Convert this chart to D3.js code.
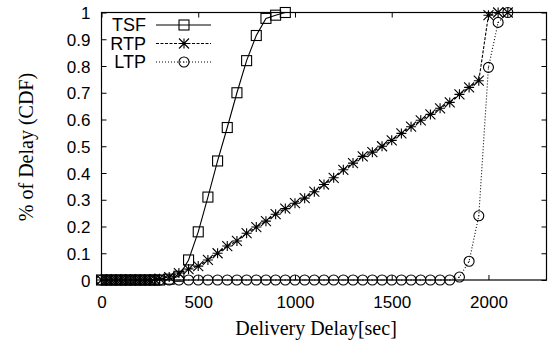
<!DOCTYPE html>
<html><head><meta charset="utf-8">
<script src="https://cdn.jsdelivr.net/npm/d3@7"></script>
<style>body{margin:0;background:#fff}svg{display:block}</style>
</head><body>
<svg id="c" width="550" height="341"></svg>
<script>
const xTicks = [0, 500, 1000, 1500, 2000];
const yTicks = [0, 0.1, 0.2, 0.3, 0.4, 0.5, 0.6, 0.7, 0.8, 0.9, 1];
const yTickLabels = ["0", "0.1", "0.2", "0.3", "0.4", "0.5", "0.6", "0.7", "0.8", "0.9", "1"];

const tsfX = [0,25,50,75,100,125,150,175,200,225,250,275,300,350,400,450,500,550,600,650,700,750,800,850,900,950];
const tsfY = [0,0,0,0,0,0,0,0,0,0,0,0,0,0.003,0.014,0.075,0.18,0.31,0.445,0.57,0.70,0.82,0.914,0.978,0.99,1.0];

const rtpX = [0,25,50,75,100,125,150,175,200,225,250,275,300,350,400,450,500,550,600,650,700,750,800,850,900,950,1000,1050,1100,1150,1200,1250,1300,1350,1400,1450,1500,1550,1600,1650,1700,1750,1800,1850,1900,1950,2000,2050,2100];
const rtpY = [0,0,0,0,0,0,0,0,0,0,0,0.002,0.005,0.011,0.026,0.041,0.052,0.075,0.10,0.127,0.146,0.175,0.198,0.22,0.246,0.267,0.287,0.306,0.33,0.357,0.382,0.412,0.437,0.462,0.478,0.50,0.522,0.548,0.573,0.597,0.619,0.642,0.664,0.694,0.72,0.745,0.99,1.0,1.0];

const ltpX = [0,25,50,75,100,125,150,175,200,225,250,275,300,350,400,450,500,550,600,650,700,750,800,850,900,950,1000,1050,1100,1150,1200,1250,1300,1350,1400,1450,1500,1550,1600,1650,1700,1750,1800,1850,1900,1950,2000,2050,2100];
const ltpY = [0,0,0,0,0,0,0,0,0,0,0,0,0,0,0,0,0,0,0,0,0,0,0,0,0,0,0,0,0,0,0,0,0,0,0,0,0,0,0,0,0,0,0,0.011,0.07,0.24,0.795,0.963,1.0];

const seriesNames = ["TSF", "RTP", "LTP"];

const L = 101.5, R = 546.5, T = 12.5, B = 280;
const x = d3.scaleLinear().domain([0, 2300]).range([L, R]);
const y = d3.scaleLinear().domain([0, 1]).range([B, T]);

const svg = d3.select("#c");
const sans = "'Liberation Sans', Arial, Helvetica, sans-serif";
const serif = "'Liberation Serif', 'Times New Roman', serif";

// axes
const gl = svg.append("g").attr("transform", `translate(${L},0)`)
  .call(d3.axisLeft(y).tickValues(yTicks).tickFormat((d,i)=>yTickLabels[i]).tickSizeInner(-5).tickSizeOuter(0).tickPadding(11));
const gr = svg.append("g").attr("transform", `translate(${R},0)`)
  .call(d3.axisRight(y).tickValues(yTicks).tickFormat("").tickSizeInner(-5).tickSizeOuter(0));
const gb = svg.append("g").attr("transform", `translate(0,${B})`)
  .call(d3.axisBottom(x).tickValues(xTicks).tickFormat(d3.format("d")).tickSizeInner(-5).tickSizeOuter(0).tickPadding(16));
const gt = svg.append("g").attr("transform", `translate(0,${T})`)
  .call(d3.axisTop(x).tickValues(xTicks).tickFormat("").tickSizeInner(-5).tickSizeOuter(0));
[gl, gr, gb, gt].forEach(g => {
  g.select(".domain").remove();
  g.selectAll("line").attr("stroke", "#000").attr("stroke-width", 1);
  g.selectAll("text").attr("font-family", sans).attr("font-size", 17).attr("fill", "#000");
});
gl.selectAll("text").attr("dy", "0.36em");

svg.append("rect").attr("x", L).attr("y", T).attr("width", R - L).attr("height", B - T)
  .attr("fill", "none").attr("stroke", "#000").attr("stroke-width", 1.2);

// titles
svg.append("text").attr("x", 316).attr("y", 335).attr("text-anchor", "middle")
  .attr("font-family", serif).attr("font-size", 20).text("Delivery Delay[sec]");
svg.append("text").attr("transform", "translate(33,147) rotate(-90)").attr("text-anchor", "middle")
  .attr("font-family", serif).attr("font-size", 20).text("% of Delay (CDF)");

function marker(g, type, cx, cy) {
  const s = 5;
  if (type === "square") {
    g.append("rect").attr("x", cx - s).attr("y", cy - s).attr("width", 2*s).attr("height", 2*s)
      .attr("fill", "none").attr("stroke", "#000").attr("stroke-width", 1.1);
  } else if (type === "star") {
    const p = `M${cx-s},${cy}L${cx+s},${cy}M${cx},${cy-s}L${cx},${cy+s}M${cx-s},${cy-s}L${cx+s},${cy+s}M${cx-s},${cy+s}L${cx+s},${cy-s}`;
    g.append("path").attr("d", p).attr("stroke", "#000").attr("stroke-width", 1.1).attr("fill", "none");
  } else {
    g.append("circle").attr("cx", cx).attr("cy", cy).attr("r", s)
      .attr("fill", "none").attr("stroke", "#000").attr("stroke-width", 1.1);
    g.append("circle").attr("cx", cx).attr("cy", cy).attr("r", 0.6).attr("fill", "#000");
  }
}

const series = [
  {name: seriesNames[0], xs: tsfX, ys: tsfY, type: "square", dash: null},
  {name: seriesNames[1], xs: rtpX, ys: rtpY, type: "star", dash: "3,1.5"},
  {name: seriesNames[2], xs: ltpX, ys: ltpY, type: "circle", dash: "1,2"}
];

const line = d3.line().x(d => x(d[0])).y(d => y(d[1]));
series.forEach((s, si) => {
  const g = svg.append("g");
  const pts = s.xs.map((v, i) => [v, s.ys[i]]);
  g.append("path").attr("d", line(pts)).attr("fill", "none").attr("stroke", "#000")
    .attr("stroke-width", 1.1).attr("stroke-dasharray", s.dash);
  pts.forEach(p => marker(g, s.type, x(p[0]), y(p[1])));
  // legend
  const ly = 25 + si * 18.5;
  svg.append("text").attr("x", 146).attr("y", ly).attr("dy", "0.36em").attr("text-anchor", "end")
    .attr("font-family", sans).attr("font-size", 18).text(s.name);
  svg.append("line").attr("x1", 156).attr("x2", 211).attr("y1", ly).attr("y2", ly)
    .attr("stroke", "#000").attr("stroke-width", 1.1).attr("stroke-dasharray", s.dash);
  marker(svg.append("g"), s.type, 184, ly);
});
</script>
</body></html>
